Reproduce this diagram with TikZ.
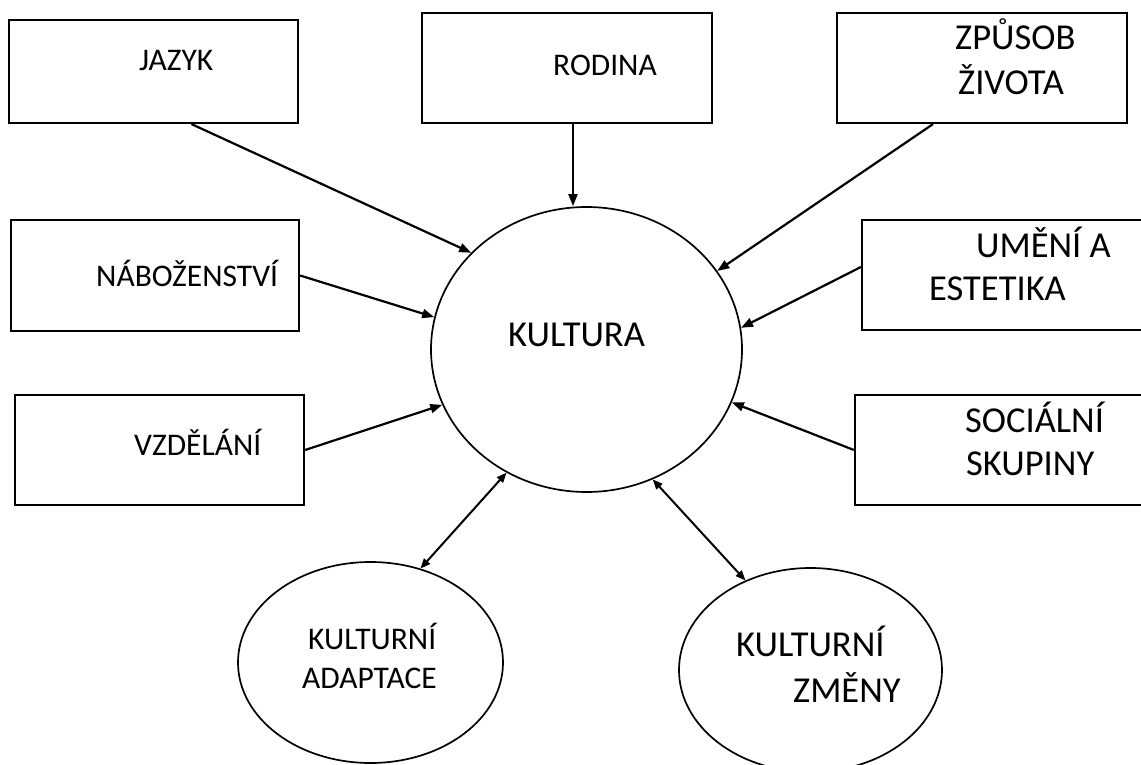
\documentclass[tikz,border=0pt]{standalone}
\usepackage{fontspec}
\setmainfont{Carlito}
\usetikzlibrary{shapes.geometric,arrows.meta}
\begin{document}
\begin{tikzpicture}[x=1pt,y=-1pt,
  boxnode/.style={draw,rectangle,line width=2.2pt,inner sep=0pt},
  ovalnode/.style={draw,ellipse,line width=1.7pt,inner sep=0pt},
  small/.style={inner sep=0pt,anchor=base west,font=\fontsize{31.5}{38}\selectfont},
  big/.style={inner sep=0pt,anchor=base west,font=\fontsize{36.5}{44}\selectfont},
  arr/.style={line width=2.2pt,-{Triangle[length=12pt,width=9pt]}},
  biarr/.style={line width=2pt,{Triangle[length=10pt,width=8pt]}-{Triangle[length=10pt,width=8pt]}}]
\useasboundingbox (0,0) rectangle (1141,765);
\fill[white] (0,0) rectangle (1141,765);
% boxes
\node[boxnode,minimum width=289pt,minimum height=103pt] (jazyk) at (153.5,71.5) {};
\node[boxnode,minimum width=290pt,minimum height=110pt] (rodina) at (567,68) {};
\node[boxnode,minimum width=290pt,minimum height=110pt] (zpusob) at (982,68) {};
\node[boxnode,minimum width=288pt,minimum height=111pt] (nab) at (155,275.5) {};
\node[boxnode,minimum width=300pt,minimum height=110pt] (umeni) at (1012,275) {};
\node[boxnode,minimum width=289pt,minimum height=110pt] (vzd) at (159.5,450) {};
\node[boxnode,minimum width=300pt,minimum height=110pt] (soc) at (1005,450) {};
% ovals
\node[ovalnode,minimum width=311pt,minimum height=285pt] (kultura) at (586.5,349.5) {};
\node[ovalnode,minimum width=265pt,minimum height=201pt] (adapt) at (370.5,662.5) {};
\node[ovalnode,minimum width=263pt,minimum height=204pt] (zmeny) at (810.5,670) {};
% texts
\node[small] (tjazyk) at (139,71) {JAZYK};
\node[small] (trodina) at (553,76) {RODINA};
\node[big] (tzpusob1) at (955,50) {ZPŮSOB};
\node[big] (tzpusob2) at (958,95) {ŽIVOTA};
\node[small] (tnab) at (96,286) {NÁBOŽENSTVÍ};
\node[big] (tumeni1) at (976,257) {UMĚNÍ A};
\node[big] (tumeni2) at (929,300) {ESTETIKA};
\node[small] (tvzd) at (134,455) {VZDĚLÁNÍ};
\node[big] (tsoc1) at (965,432) {SOCIÁLNÍ};
\node[big] (tsoc2) at (966,475) {SKUPINY};
\node[big] (tkultura) at (508,346) {KULTURA};
\node[small] (tadapt1) at (308,649) {KULTURNÍ};
\node[small] (tadapt2) at (302,688) {ADAPTACE};
\node[big] (tzmeny1) at (736,656) {KULTURNÍ};
\node[big] (tzmeny2) at (793,702) {ZMĚNY};
% connectors
\draw[arr] ([xshift=38pt]jazyk.south) -- (kultura.140);
\draw[arr] ([xshift=6pt]rodina.south) -- ([xshift=6pt]rodina.south |- kultura.north);
\draw[arr] ([xshift=-49pt]zpusob.south) -- (kultura.31);
\draw[arr] (nab.east) -- (kultura.168);
\draw[arr] ([yshift=8pt]umeni.west) -- (kultura.8);
\draw[arr] (vzd.east) -- (kultura.201);
\draw[arr] (soc.west) -- (kultura.340);
\draw[biarr] (adapt.62) -- (kultura.237);
\draw[biarr] (zmeny.126) -- (kultura.297);
\end{tikzpicture}
\end{document}
